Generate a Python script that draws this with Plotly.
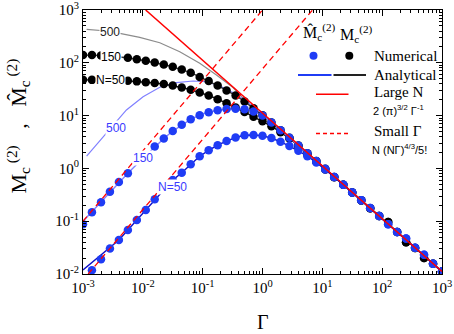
import plotly.graph_objects as go

# ---------------- data ----------------
gamma = [0.001, 0.00141, 0.002, 0.00282, 0.00398, 0.00562, 0.00794, 0.0112, 0.0158, 0.0224,
         0.0316, 0.0447, 0.0631, 0.0891, 0.126, 0.178, 0.251, 0.355, 0.501, 0.708,
         1.0, 1.41, 2.0, 2.82, 3.98, 5.62, 7.94, 11.2, 15.8, 22.4,
         31.6, 44.7, 63.1, 89.1, 126, 178, 251, 355, 501, 708, 1000]

# numerical M_c^(2) (black dots)
mc_num_n50 = [47.5, 47.5, None, None, None, 45.5, 44.5, 43, 41.5, 39.5,
              37, 34, 31, 27.5, 24, 20.5, 17.2, 14.3, 11.7, 9.5,
              7.8, 6.3, 4.85, 3.7, 2.65, 1.85, 1.33, 0.95, 0.68, 0.49,
              0.35, 0.248, 0.176, 0.125, 0.097, 0.0625, 0.040, 0.0312, 0.020, 0.0157, 0.0111]
mc_num_n150 = [140, 140, 137, None, None, 125, 117, 109, 101, 93,
               84, 75, 65, 54, 45, 37, 30, 24, 18.5, 13.8,
               10.2, 7.4, 5.3, 3.8, 2.72, 1.93, 1.38, 0.98, 0.69, 0.49,
               0.35, 0.248, 0.176, 0.125, 0.097, 0.0625, 0.040, 0.0312, 0.020, 0.0157, 0.0111]
# numerical hat-M_c^(2) (blue dots)
mh_num_n50 = [None, 0.0118, 0.019, 0.0305, 0.044, 0.068, 0.105, 0.163, 0.26, None,
              0.6, 0.83, 1.2, 1.7, 2.2, 2.75, 3.3, 3.85, 4.25, 4.3,
              4.15, 3.75, 3.2, 2.65, 2.15, 1.7, 1.3, 0.95, 0.69, 0.49,
              0.35, 0.249, 0.177, 0.125, 0.088, 0.0627, 0.047, 0.0314, 0.0232, 0.0157, 0.0111]
mh_num_n150 = [0.088, 0.148, 0.228, 0.36, 0.55, 0.81, None, None, 2.6, 3.7,
               5.1, 6.7, 8.5, 10.2, 11.6, 12.6, 13.3, 13.5, 13.2, 12.0,
               10.0, 7.4, 5.3, 3.8, 2.7, 1.93, 1.38, 0.98, 0.69, 0.49,
               0.35, 0.249, 0.177, 0.125, 0.088, 0.0627, 0.047, 0.0314, 0.0232, 0.0157, 0.0111]

# analytical curves
mc_ana_n50 = [47.5, 47.5, 47.3, 47, 46.5, 45.5, 44.5, 43, 41.5, 39.5,
              37, 34, 31, 27.5, 24, 20.5, 17.2, 14.3, 11.7, 9.5,
              7.8, 6.3, 4.85, 3.7, 2.7, 1.93, 1.38, 0.98, 0.69, 0.49,
              0.35, 0.249, 0.177, 0.125, 0.0885, 0.0627, 0.0444, 0.0314, 0.0222, 0.0157, 0.0111]
mc_ana_n150 = [140, 140, 138, 133, 129, 125, 117, 109, 101, 93,
               84, 75, 65, 54, 45, 37, 30, 24, 18.5, 13.8,
               10.2, 7.4, 5.3, 3.8, 2.72, 1.93, 1.38, 0.98, 0.69, 0.49,
               0.35, 0.249, 0.177, 0.125, 0.0885, 0.0627, 0.0444, 0.0314, 0.0222, 0.0157, 0.0111]
mh_ana_n50 = [0.0119, 0.0165, 0.0228, 0.031, 0.044, 0.068, 0.105, 0.163, 0.26, 0.40,
              0.6, 0.83, 1.2, 1.7, 2.2, 2.75, 3.3, 3.85, 4.25, 4.3,
              4.15, 3.75, 3.2, 2.65, 2.15, 1.7, 1.3, 0.95, 0.69, 0.49,
              0.35, 0.249, 0.177, 0.125, 0.0885, 0.0627, 0.0444, 0.0314, 0.0222, 0.0157, 0.0111]
mh_ana_n150 = [0.1, 0.152, 0.232, 0.36, 0.55, 0.81, 1.2, 1.75, 2.6, 3.7,
               5.1, 6.7, 8.5, 10.2, 11.6, 12.6, 13.3, 13.5, 13.2, 12.0,
               10.0, 7.4, 5.3, 3.8, 2.7, 1.93, 1.38, 0.98, 0.69, 0.49,
               0.35, 0.249, 0.177, 0.125, 0.0885, 0.0627, 0.0444, 0.0314, 0.0222, 0.0157, 0.0111]

gamma_500 = [0.00115, 0.0025, 0.00412, 0.00887, 0.0192, 0.0414, 0.0893, 0.17, 0.322, 0.6,
             1.0, 2.0, 5.0, 20, 100, 1000]
mc_ana_n500 = [431, 400, 362, 304, 240, 162, 98, 59, 34, 16,
               10.2, 5.4, 2.2, 0.55, 0.111, 0.0111]
gamma_500h = [0.00115, 0.002, 0.00316, 0.00532, 0.0101, 0.0192, 0.0365, 0.0692, 0.116, 0.2,
              0.35, 0.6, 1.0, 2.0, 5.0, 20, 100, 1000]
mh_ana_n500 = [1.7, 3.5, 6.4, 12.8, 22.8, 34.4, 42, 45.2, 43.8, 36,
               26, 17, 10.5, 5.4, 2.2, 0.55, 0.111, 0.0111]

# asymptotes (end points)
large_n_x = [0.01114, 1000]
large_n_y = [1000, 0.01114]
small_g_n150_x = [0.001, 1.0]
small_g_n150_y = [0.1, 1000]
small_g_n50_x = [0.00122, 6.86]
small_g_n50_y = [0.01, 1000]

x_tickvals = [1e-3, 1e-2, 1e-1, 1, 10, 100, 1000]
x_ticktext = ["10<sup>-3</sup>", "10<sup>-2</sup>", "10<sup>-1</sup>", "10<sup>0</sup>",
              "10<sup>1</sup>", "10<sup>2</sup>", "10<sup>3</sup>"]
y_tickvals = [1e-2, 1e-1, 1, 10, 100, 1000]
y_ticktext = ["10<sup>-2</sup>", "10<sup>-1</sup>", "10<sup>0</sup>",
              "10<sup>1</sup>", "10<sup>2</sup>", "10<sup>3</sup>"]

# ---------------- styles ----------------
BLUE = "#1f3cf5"
BLUE_DARK = "#1010c8"
BLUE_LIGHT = "#8080ff"
GRAY = "#8c8c8c"
RED = "#ff0000"
SERIF = "Liberation Serif, Times New Roman, DejaVu Serif, serif"
SANS = "Liberation Sans, Arial, sans-serif"

fig = go.Figure()

def line(x, y, color, width=1.2, dash=None):
    fig.add_trace(go.Scatter(x=x, y=y, mode="lines", showlegend=False, hoverinfo="skip",
                             line=dict(color=color, width=width, dash=dash)))

def dots(y, color):
    fig.add_trace(go.Scatter(x=gamma, y=y, mode="markers", showlegend=False,
                             marker=dict(color=color, size=8.5, line=dict(width=0))))

line(gamma_500, mc_ana_n500, GRAY, 1.2)
line(gamma_500h, mh_ana_n500, BLUE_LIGHT, 1.2)
line(gamma, mc_ana_n150, "#333333", 1.4)
line(gamma, mc_ana_n50, "#111111", 1.4)
line(gamma, mh_ana_n150, BLUE_LIGHT, 1.4)
line(gamma, mh_ana_n50, BLUE_DARK, 1.4)

dots(mc_num_n150, "black")
dots(mc_num_n50, "black")
dots(mh_num_n150, BLUE)
dots(mh_num_n50, BLUE)

line(large_n_x, large_n_y, RED, 1.5)
line(small_g_n150_x, small_g_n150_y, RED, 1.3, "6px,4px")
line(small_g_n50_x, small_g_n50_y, RED, 1.3, "6px,4px")

# ---------------- curve labels ----------------
def clabel(lx, ly, text, color):
    fig.add_annotation(x=lx, y=ly, xref="x", yref="y", text=text, showarrow=False,
                       font=dict(family=SANS, size=12, color=color),
                       bgcolor="white", borderpad=0)

clabel(-2.554, 2.574, "500", "#222222")
clabel(-2.537, 2.11, "150", "black")
clabel(-2.537, 1.665, "N=50", "black")
clabel(-2.445, 0.765, "500", "#3a3aff")
clabel(-2.0, 0.188, "150", "#3a3aff")
clabel(-1.5, -0.352, "N=50", "#3a3aff")

# ---------------- legend (drawn in paper coords) ----------------
L, T, W, H = 83.0, 10.0, 359.0, 264.0
def px(x):
    return (x - L) / W
def py(y):
    return (T + H - y) / H

def ltext(x, y, text, size=15, family=SERIF, xanchor="left"):
    fig.add_annotation(x=px(x), y=py(y), xref="paper", yref="paper", text=text,
                       showarrow=False, xanchor=xanchor, yanchor="middle",
                       font=dict(family=family, size=size, color="black"))

def lseg(x0, x1, y, color, dash=None, width=2):
    fig.add_shape(type="line", xref="paper", yref="paper", x0=px(x0), x1=px(x1),
                  y0=py(y), y1=py(y), line=dict(color=color, width=width, dash=dash))

def ldot(x, y, color):
    fig.add_shape(type="circle", xref="paper", yref="paper", xsizemode="pixel",
                  ysizemode="pixel", xanchor=px(x), yanchor=py(y), x0=-4, x1=4, y0=-4, y1=4,
                  fillcolor=color, line=dict(width=0))

ltext(319, 32, "M\u0302<sub>c</sub><sup>(2)</sup>", 16, xanchor="center")
ltext(356, 34, "M<sub>c</sub><sup>(2)</sup>", 16, xanchor="center")
ldot(313.5, 55.7, BLUE)
ldot(349.3, 55.7, "black")
ltext(372, 56, "Numerical", 15)
lseg(298, 331.5, 75, BLUE)
lseg(333.5, 366, 75, "#222222")
ltext(372, 75.5, "Analytical", 15)
lseg(316, 348.5, 94.3, RED, width=1.5)
ltext(372, 92, "Large N", 15)
ltext(371, 110, "2 (π)<sup>3/2</sup> Γ<sup>-1</sup>", 11, SANS)
lseg(316, 348.5, 133.5, RED, "4px,3px", 1.3)
ltext(372, 131, "Small Γ", 15)
ltext(370, 149, "N (NΓ)<sup>4/3</sup>/5!", 11, SANS)

# axis titles
fig.add_annotation(x=px(18), y=py(126.5), xref="paper", yref="paper",
                   xanchor="center", yanchor="middle",
                   text="M<sub>c</sub><sup> (2)</sup>   ,   M\u0302<sub>c</sub><sup> (2)</sup>",
                   textangle=-90, showarrow=False,
                   font=dict(family=SERIF, size=22, color="black"))
fig.add_annotation(x=px(263), y=py(322), xref="paper", yref="paper", text="Γ",
                   xanchor="center", yanchor="middle",
                   showarrow=False, font=dict(family=SERIF, size=20, color="black"))

minor_x = [m * 10 ** e for e in range(-3, 3) for m in range(2, 10)]
minor_y = [m * 10 ** e for e in range(-2, 3) for m in range(2, 10)]

axis_common = dict(type="log", showgrid=False, zeroline=False, showline=True,
                   linecolor="black", linewidth=1, mirror="allticks", ticks="inside",
                   ticklen=6, tickwidth=1, tickcolor="black", automargin=False,
                   ticklabeloverflow="allow",
                   tickfont=dict(family=SERIF, size=15, color="black"))

fig.update_xaxes(range=[-3, 3], tickmode="array", tickvals=x_tickvals, ticktext=x_ticktext,
                 minor=dict(tickmode="array", tickvals=minor_x, ticks="inside", ticklen=3,
                            tickcolor="black", showgrid=False),
                 **axis_common)
fig.update_yaxes(range=[-2, 3], tickmode="array", tickvals=y_tickvals, ticktext=y_ticktext,
                 minor=dict(tickmode="array", tickvals=minor_y, ticks="inside", ticklen=3,
                            tickcolor="black", showgrid=False),
                 **axis_common)

fig.update_layout(width=454, height=334, margin=dict(l=83, r=12, t=10, b=60, autoexpand=False),
                  plot_bgcolor="white", paper_bgcolor="white", showlegend=False)

fig.write_html("out.html", config={"displayModeBar": False},
               post_script="document.body.style.margin='0';document.body.style.padding='0';")
